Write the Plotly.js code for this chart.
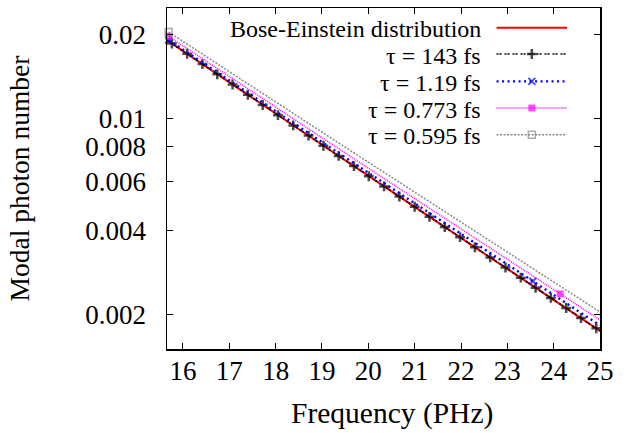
<!DOCTYPE html>
<html>
<head>
<meta charset="utf-8">
<script src="https://cdn.plot.ly/plotly-3.0.1.min.js"></script>
<style>html,body{margin:0;padding:0;background:#fff;}#chart{width:628px;height:433px;}</style>
</head>
<body>
<div id="chart"></div>
<script>
// ---- data ----
const freqBE = [15.66, 15.76, 16.09, 16.42, 16.74, 17.07, 17.40, 17.72, 18.05, 18.38, 18.71, 19.03, 19.36, 19.69, 20.01, 20.34, 20.67, 21.00, 21.32, 21.65, 21.98, 22.30, 22.63, 22.96, 23.29, 23.61, 23.94, 24.27, 24.59, 24.92, 25.00];
const nBE = [0.019089, 0.018601, 0.017092, 0.015708, 0.014437, 0.013271, 0.012200, 0.011216, 0.010313, 0.009483, 0.008720, 0.008020, 0.007376, 0.006784, 0.006240, 0.005740, 0.005280, 0.004856, 0.004468, 0.004110, 0.003781, 0.003479, 0.003200, 0.002945, 0.002709, 0.002493, 0.002293, 0.002110, 0.001942, 0.001786, 0.001750];

const freq143 = [15.66, 15.76, 16.09, 16.42, 16.74, 17.07, 17.40, 17.72, 18.05, 18.38, 18.71, 19.03, 19.36, 19.69, 20.01, 20.34, 20.67, 21.00, 21.32, 21.65, 21.98, 22.30, 22.63, 22.96, 23.29, 23.61, 23.94, 24.27, 24.59, 24.92, 25.00];
const n143 = [0.019095, 0.018607, 0.017098, 0.015714, 0.014443, 0.013277, 0.012205, 0.011221, 0.010318, 0.009488, 0.008724, 0.008024, 0.007380, 0.006788, 0.006244, 0.005744, 0.005284, 0.004860, 0.004471, 0.004113, 0.003784, 0.003482, 0.003203, 0.002948, 0.002712, 0.002496, 0.002296, 0.002113, 0.001945, 0.001789, 0.001753];

const freq119 = [15.69, 16, 17, 18, 19, 20, 21, 22, 23, 23.55, 24, 25];
const n119 = [0.019146, 0.017689, 0.013717, 0.010648, 0.008270, 0.006428, 0.004997, 0.003886, 0.003024, 0.002634, 0.002353, 0.001831];
const mark119 = [15.69, 23.55];

const freq0773 = [15.69, 16, 17, 18, 19, 20, 21, 22, 23, 24, 24.14, 25];
const n0773 = [0.019737, 0.018245, 0.014169, 0.011017, 0.008571, 0.006673, 0.005195, 0.004047, 0.003154, 0.002458, 0.002373, 0.001915];
const mark0773 = [15.69, 24.14];

const freq0595 = [15.69, 16, 17, 18, 19, 20, 21, 22, 23, 24, 25];
const n0595 = [0.020447, 0.018920, 0.014742, 0.011500, 0.008976, 0.007010, 0.005476, 0.004280, 0.003346, 0.002616, 0.002046];
const mark0595 = [15.69];

const seriesNames = ['Bose-Einstein distribution', 'τ = 143 fs', 'τ = 1.19 fs', 'τ = 0.773 fs', 'τ = 0.595 fs'];
const yTickVals = [0.002, 0.004, 0.006, 0.008, 0.01, 0.02];
const yTickText = ['0.002', '0.004', '0.006', '0.008', '0.01', '0.02'];
const xTickVals = [16, 17, 18, 19, 20, 21, 22, 23, 24, 25];
const xTitle = 'Frequency (PHz)';
const yTitle = 'Modal photon number';

// ---- styles ----
const FONT = 'Liberation Serif';
const styles = [
  {color: '#ff0000', dash: 'solid', width: 2, symbol: 'line-ew', msize: 0, mlw: 0},
  {color: '#000000', dash: '2px,1px,2px,3px', width: 1.6, symbol: 'cross-thin', msize: 7, mlw: 2.5},
  {color: '#0000ff', dash: '2px,3.5px', width: 2.4, symbol: 'x-thin', msize: 7, mlw: 2},
  {color: '#ff00ff', dash: '1px,1px', width: 1.5, symbol: 'square', msize: 7, mlw: 0},
  {color: '#888888', dash: '2px,1.5px', width: 1.5, symbol: 'square-open', msize: 7, mlw: 1.5}
];

function sizes(freq, marks, s) {
  return freq.map(f => marks.includes(f) ? s : 0);
}

const traces = [];
traces.push({x: freqBE, y: nBE, mode: 'lines', showlegend: false,
  line: {color: styles[0].color, width: styles[0].width}});
traces.push({x: freq143, y: n143, mode: 'lines+markers', showlegend: false, cliponaxis: false,
  line: {color: styles[1].color, width: styles[1].width, dash: styles[1].dash},
  marker: {symbol: styles[1].symbol, size: freq143.map((f, i) => (i === 0 || i === freq143.length - 1) ? 0 : styles[1].msize),
           color: styles[1].color, line: {color: styles[1].color, width: styles[1].mlw}}});
const others = [[freq119, n119, mark119], [freq0773, n0773, mark0773], [freq0595, n0595, mark0595]];
others.forEach((d, k) => {
  const st = styles[k + 2];
  traces.push({x: d[0], y: d[1], mode: 'lines+markers', showlegend: false, cliponaxis: false,
    line: {color: st.color, width: st.width, dash: st.dash},
    marker: {symbol: st.symbol, size: sizes(d[0], d[2], st.msize), color: st.color,
             line: {color: st.color, width: st.mlw}}});
});

// ---- manual gnuplot-style key (text right-aligned, sample on the right) ----
const keyRows = [0.9422, 0.8651, 0.7848, 0.7067, 0.6284];
const keyX0 = 0.7611, keyX1 = 0.9238, keyXc = 0.8425, keyTextX = 0.7277;
const annotations = [];
seriesNames.forEach((name, i) => {
  const st = styles[i];
  traces.push({x: [keyX0, keyXc, keyX1], y: [keyRows[i], keyRows[i], keyRows[i]], xaxis: 'x2', yaxis: 'y2',
    mode: 'lines+markers', showlegend: false, hoverinfo: 'skip', cliponaxis: false,
    line: {color: st.color, width: st.width, dash: st.dash},
    marker: {symbol: st.symbol, size: [0, st.msize, 0], color: st.color, line: {color: st.color, width: st.mlw}}});
  annotations.push({xref: 'paper', yref: 'paper', x: keyTextX, y: keyRows[i] - 0.005, xanchor: 'right', yanchor: 'middle',
    text: name, showarrow: false, borderpad: 0, font: {family: FONT, size: 24, color: '#000'}});
});
// x-axis title (placed like the gnuplot original, slightly right of centre)
annotations.push({xref: 'paper', yref: 'paper', x: 0.52, y: -0.19, xanchor: 'center', yanchor: 'middle',
  text: xTitle, showarrow: false, borderpad: 0, font: {family: FONT, size: 29.5, color: '#000'}});

const layout = {
  width: 628, height: 433,
  margin: {l: 167, r: 28, t: 8, b: 84, pad: 0},
  paper_bgcolor: '#fff', plot_bgcolor: '#fff',
  showlegend: false,
  font: {family: FONT, size: 27, color: '#000'},
  xaxis: {
    range: [15.655, 25], tickmode: 'array', tickvals: xTickVals,
    ticks: 'inside', ticklen: 6, tickwidth: 1, tickcolor: '#000',
    showline: true, linecolor: '#000', linewidth: 1.5, mirror: 'allticks',
    showgrid: false, zeroline: false, ticklabelstandoff: -3,
    tickfont: {family: FONT, size: 27}
  },
  yaxis: {
    type: 'log', range: [-2.8215, -1.6036], tickmode: 'array', tickvals: yTickVals, ticktext: yTickText,
    ticks: 'inside', ticklen: 6, tickwidth: 1, tickcolor: '#000',
    showline: true, linecolor: '#000', linewidth: 1.5, mirror: 'allticks',
    showgrid: false, zeroline: false, ticklabelstandoff: 14,
    tickfont: {family: FONT, size: 27},
    title: {text: yTitle, font: {family: FONT, size: 27.5}, standoff: 47}
  },
  xaxis2: {overlaying: 'x', range: [0, 1], visible: false, fixedrange: true},
  yaxis2: {overlaying: 'y', range: [0, 1], visible: false, fixedrange: true},
  annotations: annotations
};

Plotly.newPlot('chart', traces, layout, {staticPlot: true, displayModeBar: false});
</script>
</body>
</html>
